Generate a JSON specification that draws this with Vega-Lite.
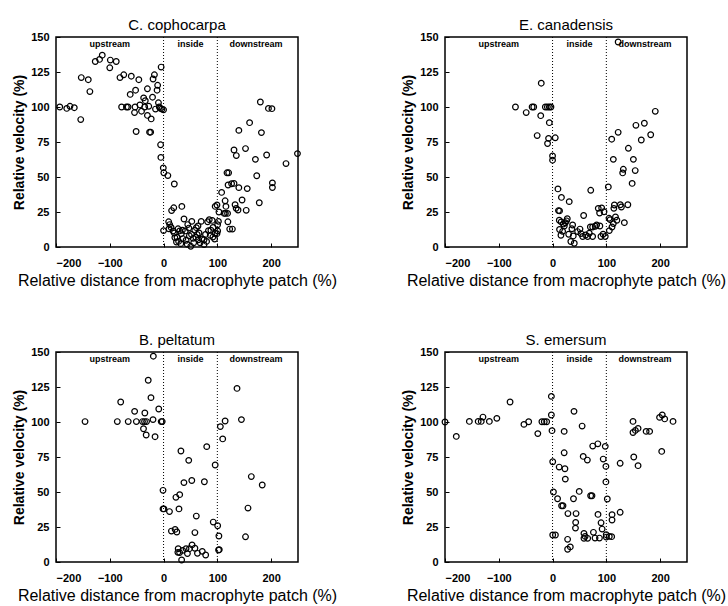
{
  "$schema": "https://vega.github.io/schema/vega-lite/v6.json",
  "background": "white",
  "padding": {"left": 11, "top": 17, "right": 5, "bottom": 5},
  "bounds": "flush",
  "columns": 2,
  "spacing": {"row": 105, "column": 147},
  "config": {
    "font": "Liberation Sans",
    "view": {"stroke": "black", "strokeWidth": 1.5},
    "axis": {"grid": false, "domain": false, "labelOverlap": false, "labelFont": "Liberation Sans", "labelFontWeight": "bold", "labelFontSize": 11, "labelColor": "black", "tickColor": "black", "tickSize": -4, "titleColor": "black", "titleFont": "Liberation Sans"},
    "axisX": {"titleFontSize": 16, "titleFontWeight": "normal", "labelPadding": 14, "titlePadding": 4},
    "axisY": {"titleFontSize": 14, "titleFontWeight": "bold", "labelPadding": 11, "titlePadding": 4},
    "title": {"fontSize": 15, "fontWeight": "normal", "font": "Liberation Sans", "color": "black", "offset": -2, "anchor": "middle", "frame": "group"},
    "text": {"font": "Liberation Sans", "fontWeight": "bold", "fontSize": 9, "color": "black"},
    "point": {"shape": "circle", "filled": false, "stroke": "black", "strokeWidth": 1.2, "size": 32, "opacity": 1}
  },
  "datasets": {
    "cc": [
      {"x": -193, "y": 100}, {"x": -180, "y": 99}, {"x": -174, "y": 100.5}, {"x": -166, "y": 99.5}, {"x": -154, "y": 91}, {"x": -153, "y": 121}, {"x": -140, "y": 119.5}, {"x": -137, "y": 111}, {"x": -127, "y": 132.5}, {"x": -119, "y": 134}, {"x": -114, "y": 137}, {"x": -100, "y": 128}, {"x": -99, "y": 133.5}, {"x": -88, "y": 132.5}, {"x": -81, "y": 121}, {"x": -78, "y": 100}, {"x": -74, "y": 123}, {"x": -69, "y": 100}, {"x": -66, "y": 100}, {"x": -60, "y": 122}, {"x": -62, "y": 109}, {"x": -52, "y": 112}, {"x": -54, "y": 96}, {"x": -53, "y": 100}, {"x": -51, "y": 82.5}, {"x": -46, "y": 119.5}, {"x": -44, "y": 101.5}, {"x": -41, "y": 97}, {"x": -37, "y": 106.5}, {"x": -35, "y": 100}, {"x": -34, "y": 104.5}, {"x": -30, "y": 113}, {"x": -30, "y": 94}, {"x": -27.5, "y": 100.5}, {"x": -26, "y": 82}, {"x": -24, "y": 82}, {"x": -23, "y": 91.5}, {"x": -20.5, "y": 107}, {"x": -19.5, "y": 120}, {"x": -17, "y": 123}, {"x": -15, "y": 98.5}, {"x": -12, "y": 112}, {"x": -11, "y": 115.5}, {"x": -9.5, "y": 103}, {"x": -8, "y": 100}, {"x": -6, "y": 99}, {"x": -4.5, "y": 128.5}, {"x": -3, "y": 98.5}, {"x": 0, "y": 98}, {"x": -5.5, "y": 73}, {"x": -5, "y": 64}, {"x": -0.5, "y": 56.5}, {"x": 0.5, "y": 53}, {"x": 8, "y": 51}, {"x": 20, "y": 45},
      {"x": 15, "y": 26}, {"x": 19, "y": 28}, {"x": 34, "y": 29}, {"x": 0, "y": 11.7}, {"x": 9.5, "y": 18}, {"x": 11.4, "y": 16}, {"x": 14, "y": 14}, {"x": 10, "y": 13}, {"x": 17.7, "y": 11.4}, {"x": 21, "y": 6.7}, {"x": 24, "y": 3.6}, {"x": 27, "y": 13}, {"x": 30, "y": 11.5}, {"x": 32, "y": 2.4}, {"x": 33, "y": 9.5}, {"x": 38, "y": 20}, {"x": 40.5, "y": 11.5}, {"x": 42, "y": 4.8}, {"x": 47, "y": 13.5}, {"x": 52.5, "y": 18.3}, {"x": 52, "y": 9}, {"x": 55, "y": 6.2}, {"x": 50.6, "y": 0.5}, {"x": 58, "y": 12}, {"x": 61, "y": 13.8}, {"x": 62.6, "y": 9}, {"x": 65, "y": 5.2}, {"x": 70, "y": 18.3}, {"x": 71.5, "y": 5.7}, {"x": 75.3, "y": 5.2}, {"x": 75.3, "y": 1.7}, {"x": 82, "y": 18}, {"x": 83.5, "y": 11.7}, {"x": 85, "y": 19.5}, {"x": 90.5, "y": 19}, {"x": 86.8, "y": 8.3}, {"x": 91.7, "y": 7.1}, {"x": 95, "y": 5.7}, {"x": 99.3, "y": 9.5}, {"x": 100.6, "y": 11.4}, {"x": 102, "y": 18.3}, {"x": 100.5, "y": 15.9},
      {"x": 20, "y": 10}, {"x": 25, "y": 7}, {"x": 28, "y": 4}, {"x": 36, "y": 6}, {"x": 44, "y": 2}, {"x": 48, "y": 8}, {"x": 56, "y": 3}, {"x": 60, "y": 7}, {"x": 66, "y": 10}, {"x": 68, "y": 3}, {"x": 78, "y": 9}, {"x": 80, "y": 4}, {"x": 88, "y": 12}, {"x": 92, "y": 14}, {"x": 96, "y": 10}, {"x": 45, "y": 16}, {"x": 35, "y": 12}, {"x": 64, "y": 15},
      {"x": 96, "y": 29}, {"x": 99.3, "y": 30}, {"x": 103, "y": 25}, {"x": 108, "y": 39}, {"x": 112.6, "y": 24}, {"x": 115, "y": 24}, {"x": 119, "y": 24}, {"x": 119.6, "y": 18}, {"x": 114.5, "y": 33}, {"x": 116, "y": 29}, {"x": 118, "y": 53}, {"x": 121, "y": 53}, {"x": 120, "y": 44.3}, {"x": 126.5, "y": 45.2}, {"x": 131, "y": 45.4}, {"x": 123, "y": 12.8}, {"x": 128, "y": 12.8}, {"x": 133, "y": 30.2}, {"x": 135, "y": 27.6}, {"x": 140, "y": 42.4}, {"x": 138.5, "y": 26.4}, {"x": 146, "y": 33.6}, {"x": 153.7, "y": 26.2}, {"x": 155.6, "y": 41.7}, {"x": 131, "y": 69.3}, {"x": 135.3, "y": 65.3}, {"x": 152.4, "y": 70.3}, {"x": 170.8, "y": 62.6}, {"x": 178, "y": 31.6}, {"x": 173.3, "y": 50.9}, {"x": 191.7, "y": 65.7}, {"x": 202.4, "y": 45.8}, {"x": 202.4, "y": 42.5}, {"x": 227.7, "y": 59.6}, {"x": 249, "y": 66.7}, {"x": 180, "y": 103.6}, {"x": 195, "y": 99}, {"x": 201.5, "y": 98.8}, {"x": 160, "y": 88.8}, {"x": 140, "y": 83.3}, {"x": 182, "y": 81.7}
    ],
    "ec": [
      {"x": -21, "y": 117}, {"x": -69, "y": 100}, {"x": -49, "y": 96}, {"x": -38, "y": 100}, {"x": -35, "y": 100}, {"x": -22, "y": 93.8}, {"x": -28.6, "y": 79.6}, {"x": -13.4, "y": 100}, {"x": -9.6, "y": 100}, {"x": -6, "y": 100}, {"x": -3, "y": 100}, {"x": -6, "y": 88.8}, {"x": -7.4, "y": 77.6}, {"x": -9.3, "y": 73.9}, {"x": 5, "y": 78}, {"x": 0, "y": 65}, {"x": 0, "y": 62}, {"x": 10, "y": 41.5}, {"x": 16.5, "y": 35.4}, {"x": 11, "y": 26}, {"x": 13, "y": 25.8}, {"x": 13, "y": 12.5}, {"x": 31, "y": 32.4},
      {"x": 12.5, "y": 19.1}, {"x": 16, "y": 17.9}, {"x": 20, "y": 16.4}, {"x": 23.7, "y": 17.3}, {"x": 26, "y": 18.7}, {"x": 27.4, "y": 20.2}, {"x": 21.8, "y": 15}, {"x": 18.7, "y": 11.2}, {"x": 15.6, "y": 8.4}, {"x": 37.3, "y": 15.7}, {"x": 36, "y": 13}, {"x": 30, "y": 9.1}, {"x": 34, "y": 3.9}, {"x": 40.4, "y": 2.7}, {"x": 38.5, "y": 7.9}, {"x": 46.6, "y": 11}, {"x": 51, "y": 12.8}, {"x": 52.8, "y": 9.6}, {"x": 56, "y": 7.5}, {"x": 57.8, "y": 22.5}, {"x": 61.5, "y": 8.6}, {"x": 65.3, "y": 7.5}, {"x": 68.3, "y": 9.8}, {"x": 70.3, "y": 14.3}, {"x": 74.5, "y": 14.3}, {"x": 71, "y": 40.5}, {"x": 74.5, "y": 7.5}, {"x": 79.5, "y": 14.8}, {"x": 82, "y": 15.7}, {"x": 85, "y": 27.6}, {"x": 87.5, "y": 24.3}, {"x": 91.3, "y": 27.9}, {"x": 88, "y": 15}, {"x": 90, "y": 7.5}, {"x": 94, "y": 9.1}, {"x": 95.7, "y": 25.2}, {"x": 98, "y": 7.5}, {"x": 103.7, "y": 42.9}, {"x": 105, "y": 20.5}, {"x": 107, "y": 19.5}, {"x": 105.6, "y": 11.7}, {"x": 113, "y": 16.7}, {"x": 110.6, "y": 14.3}, {"x": 117, "y": 21.4}, {"x": 119.6, "y": 19.1}, {"x": 114, "y": 27.6}, {"x": 115, "y": 30}, {"x": 110, "y": 77}, {"x": 122, "y": 81.9}, {"x": 113, "y": 62.6}, {"x": 126, "y": 30.2}, {"x": 128, "y": 28.6}, {"x": 131.6, "y": 55.5}, {"x": 130.4, "y": 52.9}, {"x": 133.5, "y": 17.4}, {"x": 141, "y": 70.5}, {"x": 140, "y": 30.2}, {"x": 148, "y": 45.4}, {"x": 150.3, "y": 62.6}, {"x": 153.7, "y": 54.6}, {"x": 155, "y": 86.9}, {"x": 165, "y": 76.4}, {"x": 170.7, "y": 88.4}, {"x": 182.5, "y": 80.2}, {"x": 191, "y": 96.9}, {"x": 122, "y": 146.4}
    ],
    "bp": [
      {"x": -19, "y": 147}, {"x": -28.5, "y": 129.8}, {"x": -23.4, "y": 117.4}, {"x": -79.7, "y": 114.3}, {"x": -53.8, "y": 107.6}, {"x": -34.8, "y": 106.4}, {"x": -8.9, "y": 109.3}, {"x": -19.6, "y": 101.7}, {"x": -146, "y": 100.3}, {"x": -86, "y": 100.3}, {"x": -65.7, "y": 100.3}, {"x": -50.6, "y": 100.3}, {"x": -39.2, "y": 100.3}, {"x": -35.4, "y": 100.3}, {"x": -31.6, "y": 100.3}, {"x": -4.4, "y": 100.3}, {"x": -2.5, "y": 100.3}, {"x": -37.3, "y": 95.2}, {"x": -32.3, "y": 90.7}, {"x": -15.8, "y": 89.5},
      {"x": 32.3, "y": 79.3}, {"x": 80.3, "y": 82.4}, {"x": 46.8, "y": 72.6}, {"x": 96, "y": 69.3}, {"x": 37.9, "y": 56.7}, {"x": 52.5, "y": 58.2}, {"x": 75.9, "y": 57.3}, {"x": -1, "y": 51.2}, {"x": 23, "y": 46.2}, {"x": 30, "y": 48.1}, {"x": -1, "y": 37.9}, {"x": 0.8, "y": 37.9}, {"x": 11, "y": 36}, {"x": 28.7, "y": 37.9}, {"x": 60.9, "y": 32.8}, {"x": 92.4, "y": 28.5}, {"x": 100.6, "y": 25.9}, {"x": 14.6, "y": 22.1}, {"x": 21.5, "y": 23.3}, {"x": 24.7, "y": 21.4}, {"x": 58.3, "y": 21}, {"x": 102.9, "y": 18.6}, {"x": 102.3, "y": 8.6}, {"x": 27.2, "y": 9.5}, {"x": 26.6, "y": 6.9}, {"x": 29.8, "y": 6.7}, {"x": 35.5, "y": 8.3}, {"x": 41.8, "y": 9.5}, {"x": 44.4, "y": 6}, {"x": 48.2, "y": 9.5}, {"x": 53, "y": 12.2}, {"x": 58.3, "y": 9.8}, {"x": 63, "y": 6.2}, {"x": 72, "y": 7.6}, {"x": 78.3, "y": 5}, {"x": 33.6, "y": 1.4}, {"x": 103.6, "y": 8.8},
      {"x": 136.6, "y": 124}, {"x": 144.8, "y": 101.7}, {"x": 114.5, "y": 100.7}, {"x": 105.6, "y": 96.7}, {"x": 110, "y": 87.9}, {"x": 163.2, "y": 61}, {"x": 183.5, "y": 55}, {"x": 157, "y": 38.5}, {"x": 152.4, "y": 18}
    ],
    "se": [
      {"x": -200, "y": 100}, {"x": -179, "y": 89.7}, {"x": -154.7, "y": 100.4}, {"x": -138.3, "y": 100.4}, {"x": -132.6, "y": 100.4}, {"x": -129.4, "y": 103.5}, {"x": -117.5, "y": 100.4}, {"x": -103.6, "y": 102.6}, {"x": -79, "y": 114.3}, {"x": -53.2, "y": 98.3}, {"x": -44.4, "y": 100.2}, {"x": -27.4, "y": 91.7}, {"x": -19.8, "y": 100.2}, {"x": -15.4, "y": 100.2}, {"x": -11, "y": 100.2}, {"x": -2.2, "y": 118.3}, {"x": -2.2, "y": 105}, {"x": -1, "y": 93.8},
      {"x": 0.3, "y": 71.6}, {"x": 1.6, "y": 50}, {"x": 0.3, "y": 19.3}, {"x": 5.3, "y": 19.3}, {"x": 21.6, "y": 93.3}, {"x": 39.9, "y": 107.6}, {"x": 55, "y": 97.1}, {"x": 21.6, "y": 78}, {"x": 23, "y": 66.6}, {"x": 12.3, "y": 67.8}, {"x": 23.7, "y": 59.2}, {"x": 9.3, "y": 45.2}, {"x": 16.8, "y": 40.2}, {"x": 19.4, "y": 40.2}, {"x": 49.6, "y": 50.4}, {"x": 38.9, "y": 45.2}, {"x": 57, "y": 75.4}, {"x": 64.7, "y": 72.8}, {"x": 74.7, "y": 82.8}, {"x": 84.2, "y": 84.4}, {"x": 98, "y": 82.6}, {"x": 94.2, "y": 73.5}, {"x": 99.2, "y": 68.3}, {"x": 99.2, "y": 57.2}, {"x": 101.8, "y": 45}, {"x": 28.6, "y": 34.6}, {"x": 43.7, "y": 34.6}, {"x": 70.8, "y": 47.3}, {"x": 73.3, "y": 47.3}, {"x": 84.5, "y": 34}, {"x": 90.2, "y": 28}, {"x": 43, "y": 28.3}, {"x": 42.6, "y": 24.2}, {"x": 58.4, "y": 20.4}, {"x": 60.5, "y": 18.3}, {"x": 58.4, "y": 16.9}, {"x": 65.3, "y": 16.9}, {"x": 76, "y": 21.2}, {"x": 79, "y": 17.1}, {"x": 87.2, "y": 17.1}, {"x": 92.2, "y": 23.5}, {"x": 99.8, "y": 19.5}, {"x": 99.8, "y": 17.8}, {"x": 105.5, "y": 18.3}, {"x": 109.9, "y": 18.1}, {"x": 28, "y": 16.2}, {"x": 33, "y": 10.8}, {"x": 28, "y": 9.1},
      {"x": 110.6, "y": 33.8}, {"x": 110.6, "y": 30}, {"x": 125.7, "y": 35.5}, {"x": 125.7, "y": 70.5}, {"x": 149.6, "y": 100.4}, {"x": 149.6, "y": 92.5}, {"x": 154, "y": 94}, {"x": 159, "y": 95.4}, {"x": 151, "y": 75}, {"x": 159, "y": 68.8}, {"x": 174, "y": 93.3}, {"x": 180.5, "y": 93.3}, {"x": 199, "y": 103.3}, {"x": 204, "y": 105}, {"x": 208.5, "y": 102.2}, {"x": 224, "y": 100.4}, {"x": 203, "y": 79}
    ]
  },
  "concat": [
    {
      "title": "C. cophocarpa",
      "width": 242, "height": 210,
      "layer": [
        {"data": {"name": "cc"}, "mark": "point", "encoding": {
          "x": {"field": "x", "type": "quantitative", "scale": {"domain": [-200, 250], "nice": false}, "axis": {"values": [-200, -100, 0, 100, 200], "tickCount": 10, "title": "Relative distance from macrophyte patch (%)"}},
          "y": {"field": "y", "type": "quantitative", "scale": {"domain": [0, 150], "nice": false}, "axis": {"values": [0, 25, 50, 75, 100, 125, 150], "tickCount": 10, "title": "Relative velocity (%)"}}}},
        {"data": {"values": [{}]}, "mark": {"type": "rule", "strokeDash": [1, 2], "color": "black", "strokeWidth": 1}, "encoding": {"x": {"datum": 0}}},
        {"data": {"values": [{}]}, "mark": {"type": "rule", "strokeDash": [1, 2], "color": "black", "strokeWidth": 1}, "encoding": {"x": {"datum": 100}}},
        {"data": {"values": [{}]}, "mark": {"type": "text", "text": "upstream"}, "encoding": {"x": {"datum": -100}, "y": {"datum": 145}}},
        {"data": {"values": [{}]}, "mark": {"type": "text", "text": "inside"}, "encoding": {"x": {"datum": 50}, "y": {"datum": 145}}},
        {"data": {"values": [{}]}, "mark": {"type": "text", "text": "downstream"}, "encoding": {"x": {"datum": 172}, "y": {"datum": 145}}}
      ]
    },
    {
      "title": "E. canadensis",
      "width": 242, "height": 210,
      "layer": [
        {"data": {"name": "ec"}, "mark": "point", "encoding": {
          "x": {"field": "x", "type": "quantitative", "scale": {"domain": [-200, 250], "nice": false}, "axis": {"values": [-200, -100, 0, 100, 200], "tickCount": 10, "title": "Relative distance from macrophyte patch (%)"}},
          "y": {"field": "y", "type": "quantitative", "scale": {"domain": [0, 150], "nice": false}, "axis": {"values": [0, 25, 50, 75, 100, 125, 150], "tickCount": 10, "title": "Relative velocity (%)"}}}},
        {"data": {"values": [{}]}, "mark": {"type": "rule", "strokeDash": [1, 2], "color": "black", "strokeWidth": 1}, "encoding": {"x": {"datum": 0}}},
        {"data": {"values": [{}]}, "mark": {"type": "rule", "strokeDash": [1, 2], "color": "black", "strokeWidth": 1}, "encoding": {"x": {"datum": 100}}},
        {"data": {"values": [{}]}, "mark": {"type": "text", "text": "upstream"}, "encoding": {"x": {"datum": -100}, "y": {"datum": 145}}},
        {"data": {"values": [{}]}, "mark": {"type": "text", "text": "inside"}, "encoding": {"x": {"datum": 50}, "y": {"datum": 145}}},
        {"data": {"values": [{}]}, "mark": {"type": "text", "text": "downstream"}, "encoding": {"x": {"datum": 172}, "y": {"datum": 145}}}
      ]
    },
    {
      "title": "B. peltatum",
      "width": 242, "height": 210,
      "layer": [
        {"data": {"name": "bp"}, "mark": "point", "encoding": {
          "x": {"field": "x", "type": "quantitative", "scale": {"domain": [-200, 250], "nice": false}, "axis": {"values": [-200, -100, 0, 100, 200], "tickCount": 10, "title": "Relative distance from macrophyte patch (%)"}},
          "y": {"field": "y", "type": "quantitative", "scale": {"domain": [0, 150], "nice": false}, "axis": {"values": [0, 25, 50, 75, 100, 125, 150], "tickCount": 10, "title": "Relative velocity (%)"}}}},
        {"data": {"values": [{}]}, "mark": {"type": "rule", "strokeDash": [1, 2], "color": "black", "strokeWidth": 1}, "encoding": {"x": {"datum": 0}}},
        {"data": {"values": [{}]}, "mark": {"type": "rule", "strokeDash": [1, 2], "color": "black", "strokeWidth": 1}, "encoding": {"x": {"datum": 100}}},
        {"data": {"values": [{}]}, "mark": {"type": "text", "text": "upstream"}, "encoding": {"x": {"datum": -100}, "y": {"datum": 145}}},
        {"data": {"values": [{}]}, "mark": {"type": "text", "text": "inside"}, "encoding": {"x": {"datum": 50}, "y": {"datum": 145}}},
        {"data": {"values": [{}]}, "mark": {"type": "text", "text": "downstream"}, "encoding": {"x": {"datum": 172}, "y": {"datum": 145}}}
      ]
    },
    {
      "title": "S. emersum",
      "width": 242, "height": 210,
      "layer": [
        {"data": {"name": "se"}, "mark": "point", "encoding": {
          "x": {"field": "x", "type": "quantitative", "scale": {"domain": [-200, 250], "nice": false}, "axis": {"values": [-200, -100, 0, 100, 200], "tickCount": 10, "title": "Relative distance from macrophyte patch (%)"}},
          "y": {"field": "y", "type": "quantitative", "scale": {"domain": [0, 150], "nice": false}, "axis": {"values": [0, 25, 50, 75, 100, 125, 150], "tickCount": 10, "title": "Relative velocity (%)"}}}},
        {"data": {"values": [{}]}, "mark": {"type": "rule", "strokeDash": [1, 2], "color": "black", "strokeWidth": 1}, "encoding": {"x": {"datum": 0}}},
        {"data": {"values": [{}]}, "mark": {"type": "rule", "strokeDash": [1, 2], "color": "black", "strokeWidth": 1}, "encoding": {"x": {"datum": 100}}},
        {"data": {"values": [{}]}, "mark": {"type": "text", "text": "upstream"}, "encoding": {"x": {"datum": -100}, "y": {"datum": 145}}},
        {"data": {"values": [{}]}, "mark": {"type": "text", "text": "inside"}, "encoding": {"x": {"datum": 50}, "y": {"datum": 145}}},
        {"data": {"values": [{}]}, "mark": {"type": "text", "text": "downstream"}, "encoding": {"x": {"datum": 172}, "y": {"datum": 145}}}
      ]
    }
  ]
}
